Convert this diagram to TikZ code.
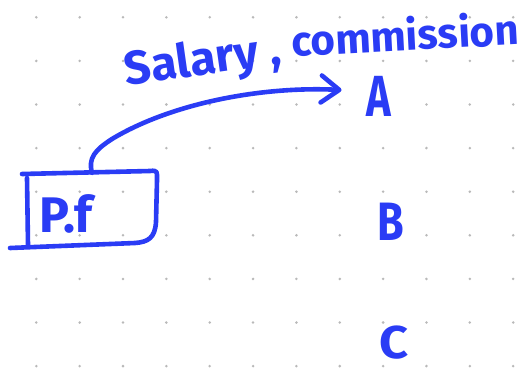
\documentclass[tikz,border=0pt]{standalone}
\usepackage{fontspec}
\setmainfont{Fira Sans}
\usetikzlibrary{arrows.meta,calc}
\definecolor{ink}{RGB}{42,60,245}
\definecolor{griddot}{RGB}{185,185,185}
\tikzset{
  pen/.style={draw=ink, line width=4.6pt, line cap=round, line join=round},
  hand/.style={text=ink, inner sep=0pt, font=\bfseries\fontsize{#1}{#1}\selectfont},
  hand/.default=54,
  wire/.style={pen, -{Straight Barb[length=18pt,width=27pt,round]}},
}
\begin{document}
\begin{tikzpicture}[x=1pt,y=-1pt]
  \useasboundingbox (0,0) rectangle (526,372);
  \fill[white] (0,0) rectangle (526,372);
  % dotted paper
  \foreach \i in {0,...,11}
    \foreach \j in {0,...,8}
      \fill[griddot] ({36.3+43.35*\i},{17.3+43.6*\j}) circle (1.4);

  % headings
  \node[hand=47, rotate=8] (sal) at (203,62) {Salary ,};
  \node[hand=42, rotate=3] (com) at (405,34) {commission};

  % letters on the right
  \node[hand=58, xscale=0.72] (A) at (379,96) {A};
  \node[hand=54, xscale=0.8] (B) at (391,222) {B};
  \node[hand=46, xscale=1.1] (C) at (394,343) {C};

  % P.f box
  \node[minimum width=135pt, minimum height=72pt] (pfbox) at (88,209) {};
  \node[hand=50] (pf) at (66,214) {P.f};
  \draw[pen] (22,174) -- (150,171) .. controls (158,170) and (157,172) .. (157,180)
             -- (156,222) .. controls (155,238) and (148,242) .. (135,243)
             -- (10,248);
  \draw[pen] (27,178) -- (28,245);

  % arrow from the box to A
  \draw[wire] ([xshift=4pt]pfbox.north) .. controls (88,158) and (95,150) .. (112,139)
              .. controls (170,104) and (260,86) .. ([shift={(-25,-6)}]A.west);
\end{tikzpicture}
\end{document}
